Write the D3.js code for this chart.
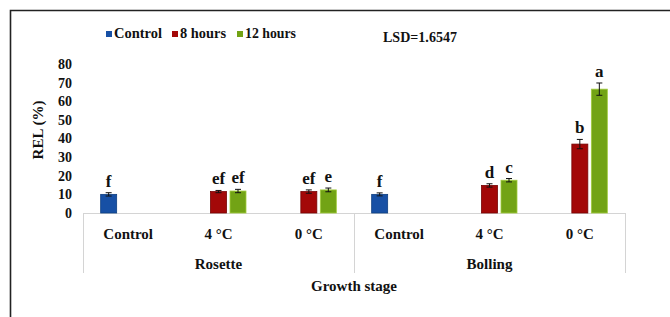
<!DOCTYPE html>
<html>
<head>
<meta charset="utf-8">
<script src="https://cdn.jsdelivr.net/npm/d3@7"></script>
<style>
  body { margin: 0; background: #fff; }
</style>
</head>
<body>
<div id="chart"></div>
<script>
// data
var stages = ['Rosette', 'Bolling'];
var treatments = ['Control', '4 \u00B0C', '0 \u00B0C'];
var series = ['Control', '8 hours', '12 hours'];
var colors = ['#1750a5', '#a30808', '#72a315'];
var strokes = ['#0e3f80', '#760404', '#a2cc3e'];

// one row per category: value (or null) for each series
var rosetteValues = [[10, null, null], [null, 11.5, 11.8], [null, 11.5, 12.4]];
var bollingValues = [[10, null, null], [null, 14.8, 17.6], [null, 37, 66.5]];
var rosetteErrors = [[0.9, 0, 0], [0, 0.6, 0.9], [0, 0.9, 1.0]];
var bollingErrors = [[0.8, 0, 0], [0, 0.9, 0.9], [0, 2.5, 3.3]];
var rosetteLetters = [['f', '', ''], ['', 'ef', 'ef'], ['', 'ef', 'e']];
var bollingLetters = [['f', '', ''], ['', 'd', 'c'], ['', 'b', 'a']];
var yTicks = [0, 10, 20, 30, 40, 50, 60, 70, 80];

var width = 670,
	height = 317,
	margin = { top: 64, right: 45, bottom: 104, left: 83 };

var FONT = '"Liberation Serif", "Times New Roman", Times, serif';

var drawWidth = width - margin.left - margin.right;
var drawHeight = height - margin.top - margin.bottom;

// flatten into categories
var cats = [];
stages.forEach(function(s, si) {
	var vals = si == 0 ? rosetteValues : bollingValues;
	var errs = si == 0 ? rosetteErrors : bollingErrors;
	var lets = si == 0 ? rosetteLetters : bollingLetters;
	treatments.forEach(function(t, ti) {
		cats.push({ key: s + ti, stage: s, label: t, values: vals[ti], errors: errs[ti], letters: lets[ti] });
	});
});

var svg = d3.select('#chart').append('svg')
	.attr('width', width)
	.attr('height', height)
	.attr('font-family', FONT)
	.attr('font-weight', 'bold');

// outer frame
svg.append('path')
	.attr('d', 'M10.5,' + height + 'V10.5H' + width)
	.attr('fill', 'none')
	.attr('stroke', '#222')
	.attr('stroke-width', 1.6);

var g = svg.append('g')
	.attr('transform', 'translate(' + margin.left + ',' + margin.top + ')');

var x0 = d3.scaleBand().domain(cats.map(function(d) { return d.key; })).range([0, drawWidth]);
var x1 = d3.scaleBand().domain(series).range([0, 55]).paddingInner(0.18);
var y = d3.scaleLinear().domain([0, 80]).range([drawHeight, drawHeight - 149]);
var groupOffset = x0.bandwidth() / 2 - 27.5;

// y axis labels only
var yAxis = d3.axisLeft(y).tickValues(yTicks).tickSize(0).tickPadding(11);
var yg = g.append('g').call(yAxis)
	.attr('font-family', FONT)
	.attr('font-size', 14);
yg.select('.domain').remove();
yg.selectAll('text').attr('fill', '#111');

function label(sel, size) {
	return sel.attr('font-family', FONT).attr('font-weight', 'bold')
		.attr('font-size', size).attr('fill', '#111');
}

label(svg.append('text'), 15)
	.attr('transform', 'translate(' + 43 + ',' + 130 + ') rotate(-90)')
	.attr('text-anchor', 'middle')
	.text('REL (%)');

// baseline and category dividers
var grid = g.append('g').attr('stroke', '#d4d4d4').attr('stroke-width', 1);
grid.append('line').attr('x1', 0).attr('x2', drawWidth).attr('y1', y(0) + 0.5).attr('y2', y(0) + 0.5);
[0, x0.step() * 3, drawWidth].forEach(function(xx) {
	grid.append('line').attr('x1', xx + 0.5).attr('x2', xx + 0.5).attr('y1', y(0)).attr('y2', y(0) + 60);
});

var cat = g.selectAll('.cat').data(cats).enter().append('g')
	.attr('class', 'cat')
	.attr('transform', function(d) { return 'translate(' + (x0(d.key) + groupOffset) + ',0)'; });

var items = cat.selectAll('.item')
	.data(function(d) {
		return series.map(function(s, i) {
			return { s: s, i: i, v: d.values[i], e: d.errors[i], l: d.letters[i] };
		}).filter(function(e) { return e.v != null; });
	})
	.enter().append('g').attr('class', 'item');

items.append('rect')
	.attr('x', function(d) { return x1(d.s); })
	.attr('y', function(d) { return y(d.v); })
	.attr('width', x1.bandwidth())
	.attr('height', function(d) { return y(0) - y(d.v); })
	.attr('fill', function(d) { return colors[d.i]; })
	.attr('stroke', function(d) { return strokes[d.i]; })
	.attr('stroke-width', 0.8);

// error bars
var cap = 3;
items.append('path')
	.attr('d', function(d) {
		var cx = x1(d.s) + x1.bandwidth() / 2;
		var t = y(d.v + d.e), b = y(d.v - d.e);
		return 'M' + (cx - cap) + ',' + t + 'H' + (cx + cap) +
			'M' + cx + ',' + t + 'V' + b +
			'M' + (cx - cap) + ',' + b + 'H' + (cx + cap);
	})
	.attr('stroke', '#111')
	.attr('stroke-width', 1)
	.attr('fill', 'none');

label(items.append('text'), 17)
	.attr('x', function(d) { return x1(d.s) + x1.bandwidth() / 2; })
	.attr('y', function(d) { return y(d.v + d.e) - 6; })
	.attr('text-anchor', 'middle')
	.text(function(d) { return d.l; });

// category labels
label(g.selectAll('.catlabel').data(cats).enter().append('text'), 15)
	.attr('x', function(d) { return x0(d.key) + x0.bandwidth() / 2; })
	.attr('y', y(0) + 26)
	.attr('text-anchor', 'middle')
	.text(function(d) { return d.label; });

label(g.selectAll('.stagelabel').data(stages).enter().append('text'), 15)
	.attr('x', function(d, i) { return x0.step() * 3 * i + x0.step() * 1.5; })
	.attr('y', y(0) + 56)
	.attr('text-anchor', 'middle')
	.text(function(d) { return d; });

label(svg.append('text'), 15)
	.attr('x', margin.left + drawWidth / 2)
	.attr('y', 291)
	.attr('text-anchor', 'middle')
	.text('Growth stage');

// legend
var legendX = [106, 172, 237];
var legendW = [48, 46, 51];
var legend = svg.selectAll('.legend').data(series).enter().append('g')
	.attr('class', 'legend')
	.attr('transform', function(d, i) { return 'translate(' + legendX[i] + ',31)'; });
legend.append('rect')
	.attr('width', 6).attr('height', 6)
	.attr('fill', function(d, i) { return colors[i]; });
label(legend.append('text'), 15)
	.attr('x', 8).attr('y', 7)
	.attr('textLength', function(d, i) { return legendW[i]; })
	.attr('lengthAdjust', 'spacingAndGlyphs')
	.text(function(d) { return d; });

label(svg.append('text'), 15)
	.attr('x', 383).attr('y', 42)
	.attr('textLength', 74)
	.attr('lengthAdjust', 'spacingAndGlyphs')
	.text('LSD=1.6547');
</script>
</body>
</html>
